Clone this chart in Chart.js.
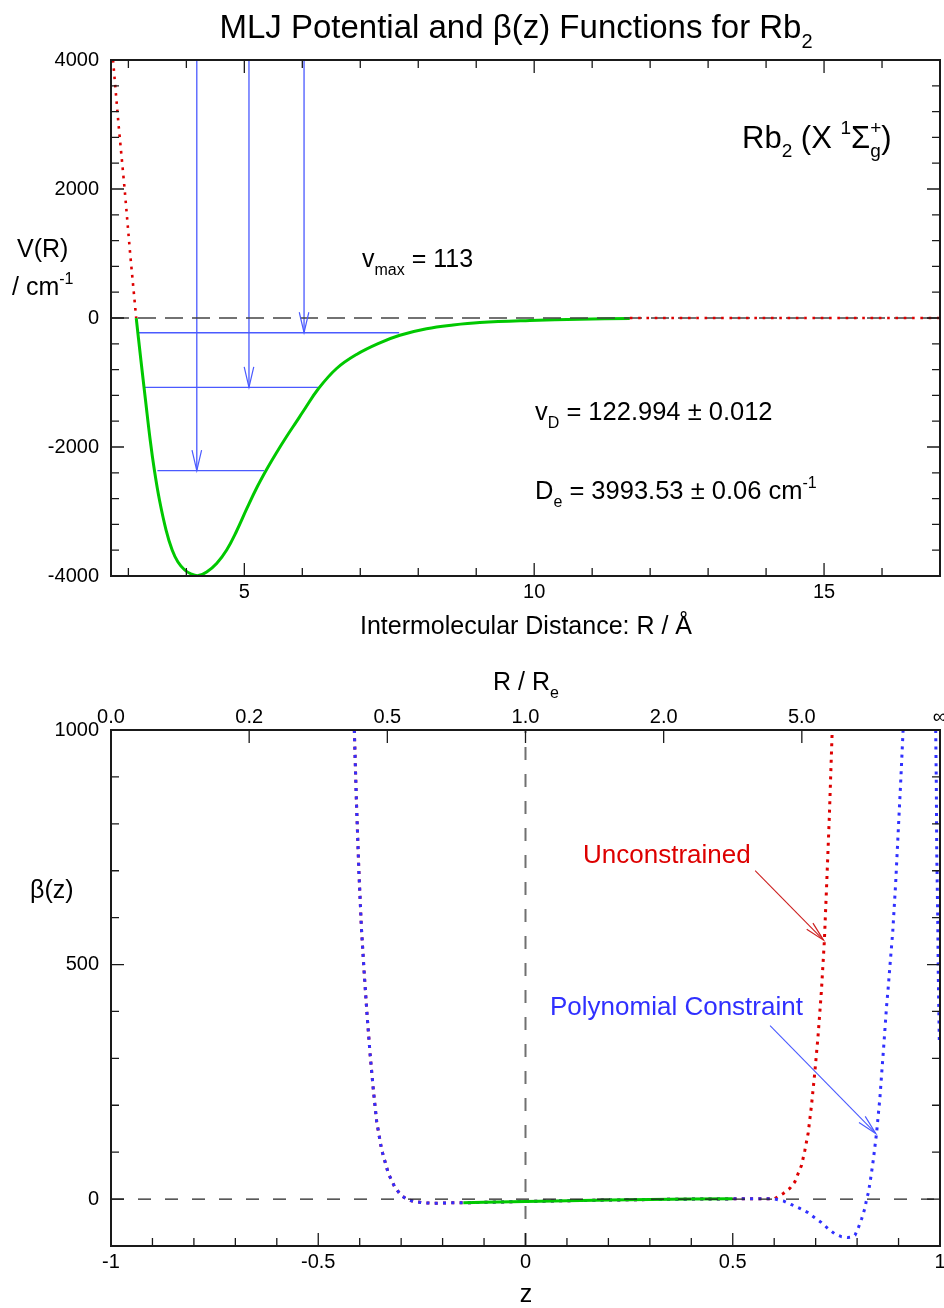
<!DOCTYPE html>
<html lang="en">
<head>
<meta charset="UTF-8">
<title>MLJ Potential and beta(z) Functions for Rb2</title>
<script src="https://cdn.jsdelivr.net/npm/chart.js"></script>
<style>
  body { margin: 0; background: #fff; }
  #wrap { position: relative; width: 944px; height: 1308px; }
  canvas { position: absolute; left: 0; display: block; }
  #potChart { top: 0; }
  #betaChart { top: 650px; }
</style>
</head>
<body>
<div id="wrap">
  <canvas id="potChart" width="944" height="650"></canvas>
  <canvas id="betaChart" width="944" height="658"></canvas>
</div>
<script>
const FONT = '"Liberation Sans", Arial, Helvetica, sans-serif';

// ---------- top panel: V(R) ----------
const rMLJ = [3.135, 3.2155, 3.295, 3.376, 3.448, 3.536, 3.650, 3.755, 3.855, 3.972, 4.079, 4.205, 4.350, 4.522, 4.695, 4.867, 5.040, 5.212, 5.384, 5.557, 5.729, 5.902, 6.016, 6.274, 6.591, 6.936, 7.338, 7.683, 8.143, 8.602, 9.062, 9.924, 10.786, 11.648];
const vMLJ = [0, -651, -1271, -1891, -2357, -2822, -3287, -3597, -3783, -3907, -3968, -3994, -3938, -3806, -3597, -3302, -2961, -2636, -2349, -2085, -1837, -1602, -1446, -1101, -783, -565, -385, -267, -167, -109, -71, -39, -19, -9];
const rWall = [2.735, 2.83, 2.935, 3.03, 3.135];
const vWall = [4000, 3000, 2000, 1000, 0];
const rTail = [11.65, 17];
const vTail = [0, 0];
const levelV = [-228, -1075, -2367];
const levelRin = [3.17, 3.285, 3.50];
const levelRout = [7.67, 6.27, 5.34];
const arrowR = [6.03, 5.08, 4.18];
const rTicks = [5, 10, 15];
const rMinor = [3, 4, 6, 7, 8, 9, 11, 12, 13, 14, 16, 17];
const vTicks = [-4000, -2000, 0, 2000, 4000];
const vMinor = [-3600, -3200, -2800, -2400, -1600, -1200, -800, -400, 400, 800, 1200, 1600, 2400, 2800, 3200, 3600];

// ---------- bottom panel: beta(z) ----------
const zShared = [-0.413, -0.408, -0.402, -0.396, -0.389, -0.382, -0.375, -0.367, -0.359, -0.347, -0.331, -0.315, -0.300, -0.287, -0.270, -0.246, -0.220, -0.187, -0.150, -0.100, 0, 0.100, 0.200, 0.300, 0.400, 0.500, 0.550, 0.600];
const bShared = [1000, 850, 700, 580, 480, 390, 310, 232, 165, 105, 55, 25, 8, 0, -5, -8, -9, -8, -8, -7, -5, -3.5, -2, -1, 0, 0.5, 0.5, 0.5];
const zFree = [0.622, 0.638, 0.650, 0.658, 0.666, 0.674, 0.682, 0.690, 0.698, 0.706, 0.714, 0.721, 0.727, 0.733, 0.740];
const bFree = [12, 23, 37, 55, 72, 104, 141, 200, 270, 350, 445, 550, 680, 815, 1000];
const zPoly = [0.622, 0.642, 0.662, 0.682, 0.698, 0.714, 0.730, 0.746, 0.762, 0.778, 0.787, 0.795, 0.803, 0.811, 0.819, 0.823, 0.827, 0.831, 0.835, 0.839, 0.843, 0.847, 0.851, 0.855, 0.859, 0.863, 0.867, 0.871, 0.875, 0.879, 0.886, 0.893, 0.899, 0.905, 0.911];
const bPoly = [-4, -12, -20, -29, -40, -50, -63, -74, -80, -82, -81, -77, -61, -42, -19, 0, 13, 34, 58, 83, 112, 141, 179, 215, 264, 311, 360, 410, 450, 495, 570, 673, 780, 886, 1000];
const zPolyFar = [0.9896, 0.9911, 0.9921, 0.9945, 0.9959, 0.9983];
const bPolyFar = [1000, 886, 744, 602, 474, 339];
const zGreen = [-0.150, -0.100, 0, 0.100, 0.200, 0.300, 0.400, 0.500];
const bGreen = [-8, -7, -5, -3.5, -2, -1, 0, 0.5];
const arrowFreeZ = [0.554, 0.719];
const arrowFreeB = [700, 552];
const arrowPolyZ = [0.590, 0.845];
const arrowPolyB = [370, 140];
const zTicks = [-1, -0.5, 0, 0.5, 1];
const zTickLabels = ['-1', '-0.5', '0', '0.5', '1'];
const zMinor = [-0.9, -0.8, -0.7, -0.6, -0.4, -0.3, -0.2, -0.1, 0.1, 0.2, 0.3, 0.4, 0.6, 0.7, 0.8, 0.9];
const ratioTicks = [0, 0.2, 0.5, 1, 2, 5, Infinity];
const ratioLabels = ['0.0', '0.2', '0.5', '1.0', '2.0', '5.0', '\u221E'];
const bTicks = [0, 500, 1000];
const bMinor = [-100, 100, 200, 300, 400, 600, 700, 800, 900];

const GREEN = '#00c800', RED = '#dd0000', BLUE = '#3030ff', LBLUE = '#4a5aff';

function pts(xs, ys) { return xs.map((x, i) => ({x: x, y: ys[i]})); }
function zOfRatio(r) { return r === Infinity ? 1 : (r - 1) / (r + 1); }

function line(data, color, width, dash, order, extra) {
  return Object.assign({
    data: data, showLine: true, borderColor: color, backgroundColor: color,
    borderWidth: width, borderDash: dash || [], pointRadius: 0, pointHoverRadius: 0,
    fill: false, order: order
  }, extra || {});
}

// text with sub/superscripts
function rich(ctx, x, y, parts, size, color, align) {
  const big = size + 'px ' + FONT, small = Math.round(size * 0.62) + 'px ' + FONT;
  const runs = parts.map(p => {
    const kind = p[1] || '';
    ctx.font = kind ? small : big;
    const w = kind === 'subsup'
      ? Math.max(ctx.measureText(p[0][0]).width, ctx.measureText(p[0][1]).width)
      : ctx.measureText(p[0]).width;
    return {text: p[0], kind: kind, w: w};
  });
  const total = runs.reduce((s, r) => s + r.w, 0);
  let cx = align === 'center' ? x - total / 2 : x;
  ctx.save();
  ctx.fillStyle = color;
  ctx.textAlign = 'left';
  ctx.textBaseline = 'alphabetic';
  runs.forEach(r => {
    if (!r.kind) {
      ctx.font = big;
      ctx.fillText(r.text, cx, y);
    } else {
      ctx.font = small;
      if (r.kind === 'sub') ctx.fillText(r.text, cx, y + size * 0.3);
      else if (r.kind === 'sup') ctx.fillText(r.text, cx, y - size * 0.45);
      else {
        ctx.fillText(r.text[0], cx, y + size * 0.3);
        ctx.fillText(r.text[1], cx, y - size * 0.45);
      }
    }
    cx += r.w;
  });
  ctx.restore();
}

function tickMarks(chart, scaleId, values, len, sides) {
  const s = chart.scales[scaleId], a = chart.chartArea, ctx = chart.ctx;
  ctx.beginPath();
  values.forEach(v => {
    const p = s.getPixelForValue(v);
    if (s.isHorizontal()) {
      if (sides.includes('b')) { ctx.moveTo(p, a.bottom); ctx.lineTo(p, a.bottom - len); }
      if (sides.includes('t')) { ctx.moveTo(p, a.top); ctx.lineTo(p, a.top + len); }
    } else {
      if (sides.includes('l')) { ctx.moveTo(a.left, p); ctx.lineTo(a.left + len, p); }
      if (sides.includes('r')) { ctx.moveTo(a.right, p); ctx.lineTo(a.right - len, p); }
    }
  });
  ctx.stroke();
}

function arrowHead(ctx, x0, y0, x1, y1, len, spread) {
  const a = Math.atan2(y1 - y0, x1 - x0);
  ctx.beginPath();
  ctx.moveTo(x1 - len * Math.cos(a - spread), y1 - len * Math.sin(a - spread));
  ctx.lineTo(x1, y1);
  ctx.lineTo(x1 - len * Math.cos(a + spread), y1 - len * Math.sin(a + spread));
  ctx.stroke();
}

function decor(cfg) {
  return {
    id: 'decor',
    afterDatasetsDraw(chart) {
      const ctx = chart.ctx, a = chart.chartArea;
      const sx = chart.scales.x, sy = chart.scales.y;
      ctx.save();
      cfg.heads.forEach(h => {
        ctx.strokeStyle = h.color;
        ctx.lineWidth = 1.2;
        arrowHead(ctx, sx.getPixelForValue(h.xs[0]), sy.getPixelForValue(h.ys[0]),
          sx.getPixelForValue(h.xs[1]), sy.getPixelForValue(h.ys[1]), h.len, h.spread);
      });
      ctx.strokeStyle = '#1a1a1a';
      ctx.lineWidth = 1.3;
      cfg.ticks.forEach(t => tickMarks(chart, t[0], t[1], t[2], t[3]));
      ctx.lineWidth = 2;
      ctx.strokeRect(a.left, a.top, a.right - a.left, a.bottom - a.top);
      ctx.restore();
      cfg.texts.forEach(t => rich(ctx, t.x, t.y, t.parts, t.size, t.color || '#000', t.align));
    }
  };
}

Chart.defaults.font.family = FONT;
const tickFont = {family: FONT, size: 20};
const plain = v => String(v);

function xScale(extra) {
  return Object.assign({
    type: 'linear',
    grid: {display: false, drawTicks: false},
    border: {display: false},
    ticks: {font: tickFont, color: '#000', padding: 4, maxRotation: 0, autoSkip: false, callback: plain}
  }, extra);
}
function yScale(extra) {
  return Object.assign({
    type: 'linear',
    grid: {display: false, drawTicks: false},
    border: {display: false},
    ticks: {font: tickFont, color: '#000', padding: 12, autoSkip: false, callback: plain},
    afterFit: s => { s.width = 111; s.paddingTop = 0; s.paddingBottom = 0; }
  }, extra);
}

// ---------- top chart ----------
const potSets = [
  line(pts(rMLJ, vMLJ), GREEN, 3, [], 4, {tension: 0.4}),
  line(pts([2.7, 17], [0, 0]), '#444', 1.3, [18, 9], 3),
  line(pts(rWall, vWall), RED, 2.6, [2.6, 5.7], 2),
  line(pts(rTail, vTail), RED, 2.6, [2.6, 5.7], 2)
];
const potHeads = [];
levelV.forEach((v, i) => {
  potSets.push(line(pts([levelRin[i], levelRout[i]], [v, v]), LBLUE, 1.4, [], 5));
  potSets.push(line(pts([arrowR[i], arrowR[i]], [4000, v]), LBLUE, 1.3, [], 5));
  potHeads.push({xs: [arrowR[i], arrowR[i]], ys: [4000, v], color: LBLUE, len: 21, spread: 0.23});
});

new Chart(document.getElementById('potChart'), {
  type: 'scatter',
  data: {datasets: potSets},
  options: {
    responsive: false,
    animation: false,
    events: [],
    layout: {padding: {top: 60, right: 4, left: 0, bottom: 0}},
    plugins: {legend: {display: false}, tooltip: {enabled: false}},
    scales: {
      x: xScale({
        min: 2.7, max: 17,
        afterBuildTicks: s => { s.ticks = rTicks.map(v => ({value: v})); },
        afterFit: s => { s.height = 74; s.paddingLeft = 0; s.paddingRight = 0; }
      }),
      y: yScale({
        min: -4000, max: 4000,
        afterBuildTicks: s => { s.ticks = vTicks.map(v => ({value: v})); }
      })
    }
  },
  plugins: [decor({
    heads: potHeads,
    ticks: [
      ['x', rTicks, 13, 'bt'], ['x', rMinor, 8, 'bt'],
      ['y', vTicks, 13, 'lr'], ['y', vMinor, 8, 'lr']
    ],
    texts: [
      {x: 516, y: 38, size: 33, align: 'center', parts: [['MLJ Potential and \u03B2(z) Functions for Rb'], ['2', 'sub']]},
      {x: 17, y: 257, size: 25, parts: [['V(R)']]},
      {x: 12, y: 295, size: 25, parts: [['/ cm'], ['-1', 'sup']]},
      {x: 362, y: 267, size: 25, parts: [['v'], ['max', 'sub'], [' = 113']]},
      {x: 742, y: 148, size: 31, parts: [['Rb'], ['2', 'sub'], [' (X '], ['1', 'sup'], ['\u03A3'], [['g', '+'], 'subsup'], [')']]},
      {x: 535, y: 420, size: 25.5, parts: [['v'], ['D', 'sub'], [' = 122.994 \u00B1 0.012']]},
      {x: 535, y: 499, size: 25.5, parts: [['D'], ['e', 'sub'], [' = 3993.53 \u00B1 0.06 cm'], ['-1', 'sup']]},
      {x: 526, y: 634, size: 25, align: 'center', parts: [['Intermolecular Distance: R / \u00C5']]}
    ]
  })]
});

// ---------- bottom chart ----------
const betaSets = [
  line(pts([0, 0], [-100, 1000]), '#707070', 2, [13, 14], 9),
  line(pts(zShared, bShared).concat(pts(zFree, bFree)), RED, 3, [3, 5.3], 6),
  line(pts(zShared, bShared).concat(pts(zPoly, bPoly)), BLUE, 3, [3, 5.3], 5),
  line(pts(zPolyFar, bPolyFar), BLUE, 3, [3, 5.3], 5),
  line(pts(zGreen, bGreen), GREEN, 3, [], 4),
  line(pts([-1, 1], [0, 0]), '#222', 1.3, [13, 14], 3),
  line(pts(arrowFreeZ, arrowFreeB), '#cc2020', 1.1, [], 2),
  line(pts(arrowPolyZ, arrowPolyB), LBLUE, 1.1, [], 2)
];

new Chart(document.getElementById('betaChart'), {
  type: 'scatter',
  data: {datasets: betaSets},
  options: {
    responsive: false,
    animation: false,
    events: [],
    layout: {padding: {top: 0, right: 4, left: 0, bottom: 0}},
    plugins: {legend: {display: false}, tooltip: {enabled: false}},
    scales: {
      x: xScale({
        position: 'bottom', min: -1, max: 1,
        afterBuildTicks: s => { s.ticks = zTicks.map(v => ({value: v})); },
        afterFit: s => { s.height = 62; s.paddingLeft = 0; s.paddingRight = 0; },
        ticks: {font: tickFont, color: '#000', padding: 4, maxRotation: 0, autoSkip: false,
          callback: (v, i) => zTickLabels[i]}
      }),
      x2: xScale({
        position: 'top', min: -1, max: 1,
        afterBuildTicks: s => { s.ticks = ratioTicks.map(r => ({value: zOfRatio(r)})); },
        afterFit: s => { s.height = 80; s.paddingLeft = 0; s.paddingRight = 0; },
        ticks: {font: tickFont, color: '#000', padding: 1, maxRotation: 0, autoSkip: false,
          callback: (v, i) => ratioLabels[i]}
      }),
      y: yScale({
        min: -100, max: 1000,
        afterBuildTicks: s => { s.ticks = bTicks.map(v => ({value: v})); }
      })
    }
  },
  plugins: [decor({
    heads: [
      {xs: arrowFreeZ, ys: arrowFreeB, color: '#cc2020', len: 20, spread: 0.22},
      {xs: arrowPolyZ, ys: arrowPolyB, color: LBLUE, len: 20, spread: 0.22}
    ],
    ticks: [
      ['x', zTicks, 13, 'b'], ['x', zMinor, 8, 'b'],
      ['x2', ratioTicks.slice(1, 6).map(zOfRatio), 13, 't'],
      ['y', bTicks, 13, 'lr'], ['y', bMinor, 8, 'lr']
    ],
    texts: [
      {x: 493, y: 40, size: 25, parts: [['R / R'], ['e', 'sub']]},
      {x: 30, y: 248, size: 25, parts: [['\u03B2(z)']]},
      {x: 583, y: 213, size: 26, color: RED, parts: [['Unconstrained']]},
      {x: 550, y: 365, size: 26, color: BLUE, parts: [['Polynomial Constraint']]},
      {x: 526, y: 652, size: 25, align: 'center', parts: [['z']]}
    ]
  })]
});
</script>
</body>
</html>
